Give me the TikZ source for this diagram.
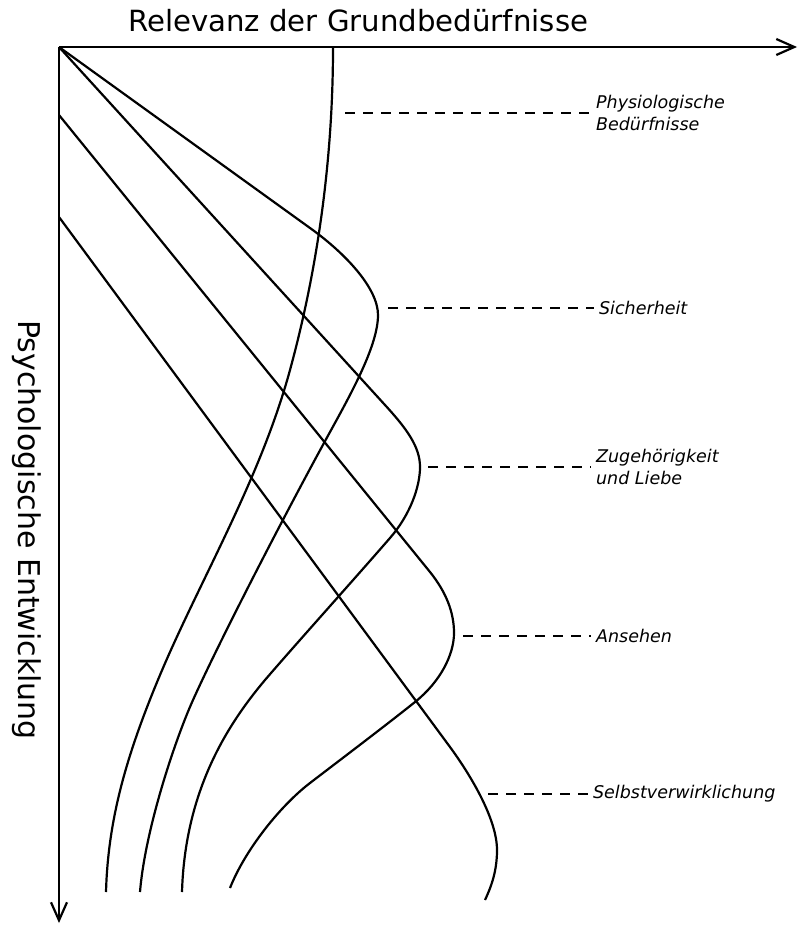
\documentclass[tikz,border=0pt]{standalone}
\usepackage{fontspec}
\setmainfont{DejaVu Sans}
\usetikzlibrary{arrows.meta}

\begin{document}
\begin{tikzpicture}[x=0.5pt, y=-0.5pt, line width=1.1pt,
  axis/.style={-{Straight Barb[length=9pt,width=8pt]}},
  need/.style={anchor=west, inner sep=2pt, align=left,
    font=\itshape\fontsize{8.75}{11}\selectfont},
  leader/.style={line width=0.6pt, dash pattern=on 5pt off 4pt}]
  \useasboundingbox (0,0) rectangle (798,925);

  %% axes
  \coordinate (o) at (59,47);
  \coordinate (xend) at (797,47);
  \coordinate (yend) at (59,923);
  \draw[axis] (o) -- (xend);
  \draw[axis] (o) -- (yend);
  \node[anchor=base west, inner sep=0pt, font=\fontsize{14.6}{17}\selectfont]
    (xlab) at (127,32) {Relevanz der Grundbedürfnisse};
  \node[rotate=-90, inner sep=0pt, font=\fontsize{15}{18}\selectfont]
    (ylab) at (27,530) {Psychologische Entwicklung};

  %% curves, one per need
  \draw (333,47) .. controls (333,150) and (320,260) .. (290,370)
    .. controls (260,480) and (200,580) .. (160,675)
    .. controls (126,756) and (108,820) .. (106,892); %% physiologisch
  \draw (o) -- (310,228) .. controls (345,253) and (378,288) .. (378,315)
    .. controls (378,345) and (352,392) .. (330,432)
    .. controls (286,512) and (220,640) .. (193,700)
    .. controls (175,740) and (145,830) .. (140,892); %% sicherheit
  \draw (o) -- (385,405) .. controls (407,429) and (420,447) .. (420,467)
    .. controls (420,487) and (410,515) .. (390,538)
    .. controls (350,584) and (295,645) .. (265,680)
    .. controls (228,724) and (185,790) .. (182,892); %% zugehoerigkeit
  \draw (59,115) -- (430,572) .. controls (446,592) and (454,612) .. (454,633)
    .. controls (454,655) and (440,682) .. (415,702)
    .. controls (385,726) and (340,760) .. (310,783)
    .. controls (280,806) and (245,850) .. (230,888); %% ansehen
  \draw (59,217) -- (450,747) .. controls (472,777) and (497,820) .. (497,850)
    .. controls (497,870) and (492,885) .. (485,900); %% selbstverw.

  %% labels and leaders
  \coordinate (phys) at (345,113);
  \coordinate (sich) at (388,308);
  \coordinate (zug) at (428,467);
  \coordinate (ans) at (463,636);
  \coordinate (selb) at (488,794);

  \node[need] (physlab) at (591,113) {Physiologische\\Bedürfnisse};
  \node[need] (sichlab) at (594,308) {Sicherheit};
  \node[need] (zuglab) at (591,467) {Zugehörigkeit\\und Liebe};
  \node[need] (anslab) at (591,636) {Ansehen};
  \node[need] (selblab) at (588,794) {Selbstverwirklichung};

  \draw[leader] (phys) -- (physlab.west);
  \draw[leader] (sich) -- (sichlab.west);
  \draw[leader] (zug) -- (zuglab.west);
  \draw[leader] (ans) -- (anslab.west);
  \draw[leader] (selb) -- (selblab.west);
\end{tikzpicture}
\end{document}
